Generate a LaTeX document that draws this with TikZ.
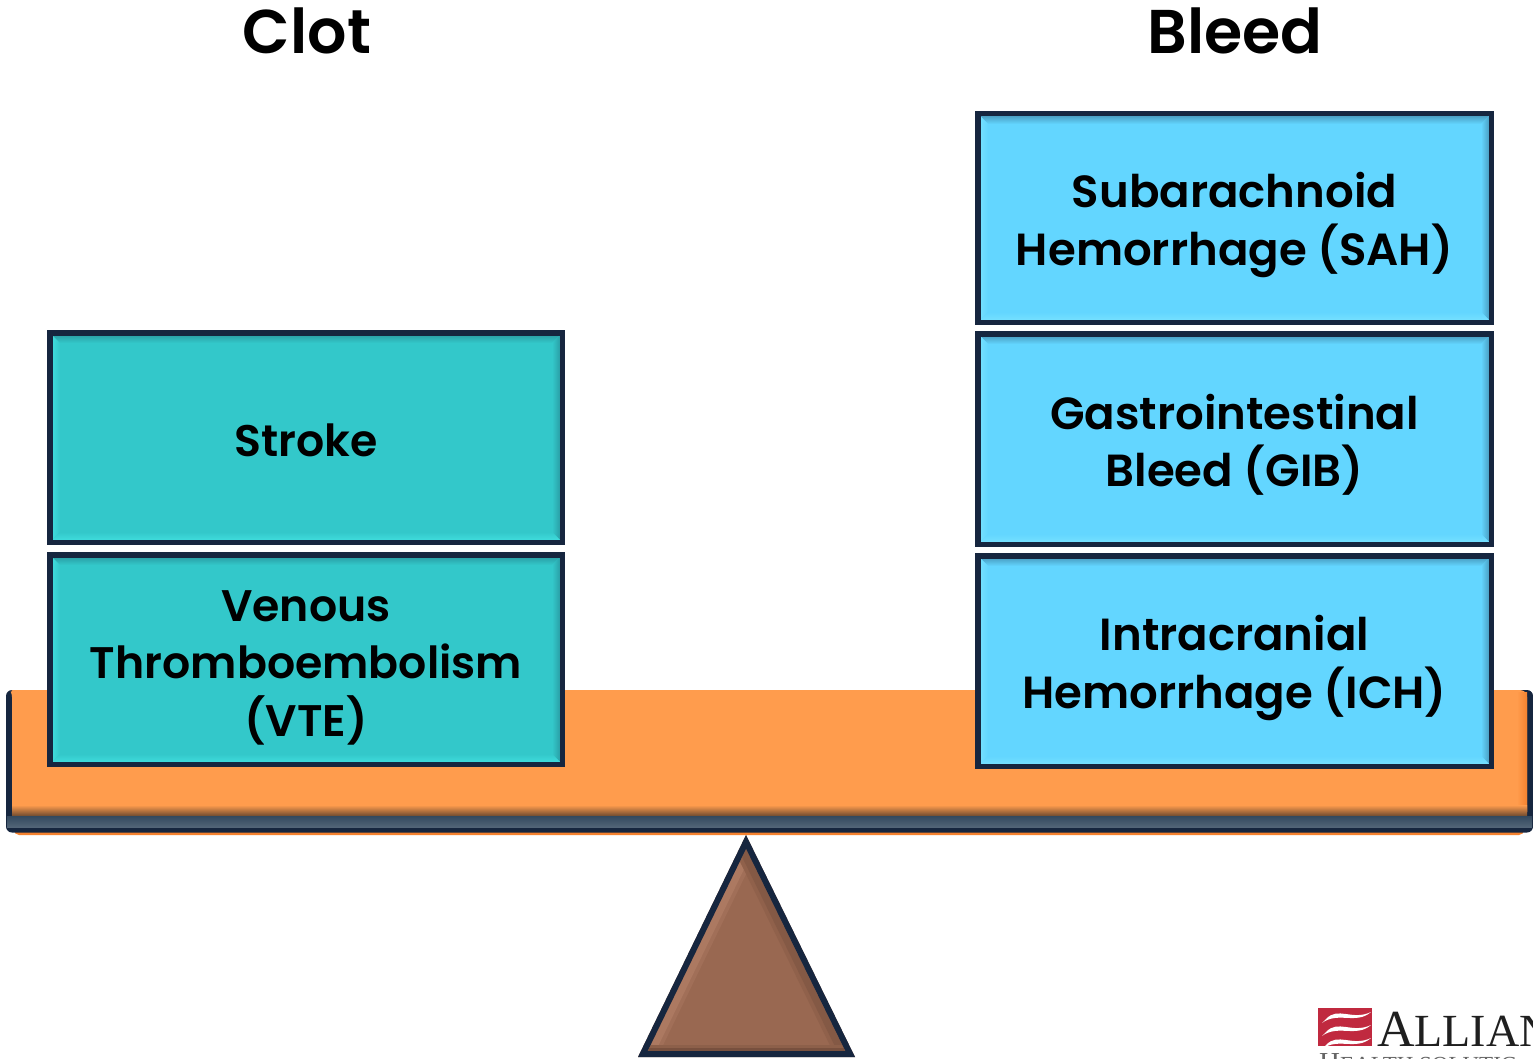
\documentclass[tikz,border=0pt]{standalone}
\usepackage{fontspec}
\setmainfont{Poppins}[BoldFont={Poppins SemiBold}]
\newfontfamily\logofont{Liberation Serif}
\definecolor{navy}{HTML}{16263F}
\definecolor{navyb}{HTML}{33495F}
\definecolor{tealf}{HTML}{33C8CA}
\definecolor{teall}{HTML}{3FDCDC}
\definecolor{teald}{HTML}{2A9FA6}
\definecolor{bluef}{HTML}{63D6FF}
\definecolor{bluel}{HTML}{74E0FF}
\definecolor{blued}{HTML}{4AA0C4}
\definecolor{beamc}{HTML}{FF9C4D}
\definecolor{beamr}{HTML}{F5822F}
\definecolor{beamd}{HTML}{6E4A30}
\definecolor{brownf}{HTML}{996851}
\definecolor{brownl}{HTML}{B8856C}
\definecolor{brownd}{HTML}{6A4636}
\definecolor{logored}{HTML}{C0293F}
\newcommand{\bfsz}{44.2}
\tikzset{
  x=1pt,y=-1pt,
  boxtext/.style={font=\fontsize{\bfsz}{57.5}\selectfont\bfseries,align=center,text=black,inner sep=0pt},
  headtext/.style={font=\fontsize{61.8}{70}\selectfont\bfseries,text=black,inner sep=0pt},
  edgeband/.style={line width=#1,line cap=butt},
}
\newcommand{\bdy}{0}
% name, x1,y1,x2,y2 outer, fill, light, dark, text
\newcommand{\bevbox}[9]{%
  \pgfmathsetmacro{\xa}{#2+2.75}\pgfmathsetmacro{\ya}{#3+2.75}%
  \pgfmathsetmacro{\xb}{#4-2.75}\pgfmathsetmacro{\yb}{#5-2.75}%
  \pgfmathsetmacro{\xc}{#2+5}\pgfmathsetmacro{\yc}{#3+5}%
  \pgfmathsetmacro{\xd}{#4-5}\pgfmathsetmacro{\yd}{#5-5}%
  \pgfmathsetmacro{\xe}{#2+13}\pgfmathsetmacro{\ye}{#3+13}%
  \pgfmathsetmacro{\xf}{#4-13}\pgfmathsetmacro{\yf}{#5-13}%
  \pgfmathsetmacro{\xm}{(#2+#4)/2}\pgfmathsetmacro{\ym}{(#3+#5)/2+\bdy}%
  \fill[#6] (\xc,\yc) rectangle (\xd,\yd);
  \shade[top color=#8,bottom color=#6] (\xc,\yc) -- (\xd,\yc) -- (\xf,\ye) -- (\xe,\ye) -- cycle;
  \shade[left color=#7,right color=#6] (\xc,\yc) -- (\xe,\ye) -- (\xe,\yf) -- (\xc,\yd) -- cycle;
  \shade[left color=#6,right color=#8] (\xd,\yc) -- (\xf,\ye) -- (\xf,\yf) -- (\xd,\yd) -- cycle;
  \shade[top color=#6,bottom color=#7] (\xc,\yd) -- (\xd,\yd) -- (\xf,\yf) -- (\xe,\yf) -- cycle;
  \draw[navy,line width=5.5pt,miter limit=10] (\xa,\ya) rectangle (\xb,\yb);
  \node[boxtext] (#1) at (\xm,\ym) {#9};
}
\begin{document}
\begin{tikzpicture}
\useasboundingbox (0,0) rectangle (1533,1059);
\fill[white] (0,0) rectangle (1533,1059);
% beam
\fill[beamr,rounded corners=5pt] (14,800) rectangle (1524,835);
\fill[navy,rounded corners=6pt] (6,690) rectangle (1533,832.5);
\fill[beamc,rounded corners=3pt] (10,690) -- (1523,690) -- (1527,694) -- (1527,815) -- (12,815) -- (12,694) -- cycle;
\shade[left color=beamc,right color=beamr] (1517,692) -- (1527,692) -- (1527,812) -- (1517,805) -- cycle;
\shade[top color=beamc,bottom color=beamd] (12,805) -- (1527,805) -- (1527,816) -- (12,816) -- cycle;
\shade[top color=navyb,bottom color=navyb!85!white] (7,816) -- (1532,816) -- (1532,827) -- (7,827) -- cycle;
% fulcrum
\coordinate (fa) at (746,835);
\coordinate (fb) at (638,1057);
\coordinate (fc) at (855,1057);
\coordinate (ia) at (746,849);
\coordinate (ib) at (648,1051);
\coordinate (ic) at (845,1051);
\fill[brownf] (fa) -- (fb) -- (fc) -- cycle;
\begin{scope}
\clip (ia) -- (ib) -- (ic) -- cycle;
\draw[edgeband=22pt,brownl!25!brownf] (ia) -- (ib);
\draw[edgeband=14pt,brownl!60!brownf] (ia) -- (ib);
\draw[edgeband=22pt,brownd!20!brownf] (ia) -- (ic);
\draw[edgeband=14pt,brownd!45!brownf] (ia) -- (ic);
\draw[edgeband=13pt,brownd!25!brownf] (ib) -- (ic);
\draw[edgeband=7pt,brownd!70!brownf] (ib) -- (ic);
\end{scope}
\begin{scope}
\clip (fa) -- (fb) -- (fc) -- cycle;
\draw[navy,line width=12pt] (fa) -- (fb) -- (fc) -- cycle;
\end{scope}
% boxes
\renewcommand{\bdy}{3}
\bevbox{stroke}{47}{330}{565}{545}{tealf}{teall}{teald}{Stroke}
\renewcommand{\bdy}{8}
\bevbox{vte}{47}{552}{565}{767}{tealf}{teall}{teald}{Venous\\Thromboembolism\\(VTE)}
\renewcommand{\bfsz}{45}
\renewcommand{\bdy}{7}
\bevbox{sah}{975}{111}{1494}{325}{bluef}{bluel}{blued}{Subarachnoid\\Hemorrhage (SAH)}
\renewcommand{\bdy}{6}
\bevbox{gib}{975}{331}{1494}{547}{bluef}{bluel}{blued}{Gastrointestinal\\Bleed (GIB)}
\renewcommand{\bdy}{7}
\bevbox{ich}{975}{553}{1494}{769}{bluef}{bluel}{blued}{Intracranial\\Hemorrhage (ICH)}
% headings
\node[headtext] (clot) at (307,31) {Clot};
\node[headtext] (bleed) at (1235,31) {Bleed};
% logo
\fill[logored] (1318,1008) rectangle (1372,1046);
\foreach \dy in {0,13,26}{
  \fill[white] (1326,1019+\dy) .. controls (1338,1006+\dy) and (1352,1021+\dy) .. (1371,1012+\dy)
     .. controls (1356,1025+\dy) and (1338,1011+\dy) .. (1322,1023+\dy) -- cycle;
}
\begin{scope}
\clip (1300,1000) rectangle (1533,1059);
\node[anchor=base west,inner sep=0pt,text=black!88] (alliance) at (1377,1046) {\logofont\fontsize{52}{52}\selectfont A\fontsize{46}{46}\selectfont LLIAN};
\node[anchor=base west,inner sep=0pt,text=black!60] (health) at (1319,1072) {\logofont\fontsize{29}{29}\selectfont H\fontsize{23}{23}\selectfont EALTH S\fontsize{23}{23}\selectfont OLUTIC};
\end{scope}
\end{tikzpicture}
\end{document}
